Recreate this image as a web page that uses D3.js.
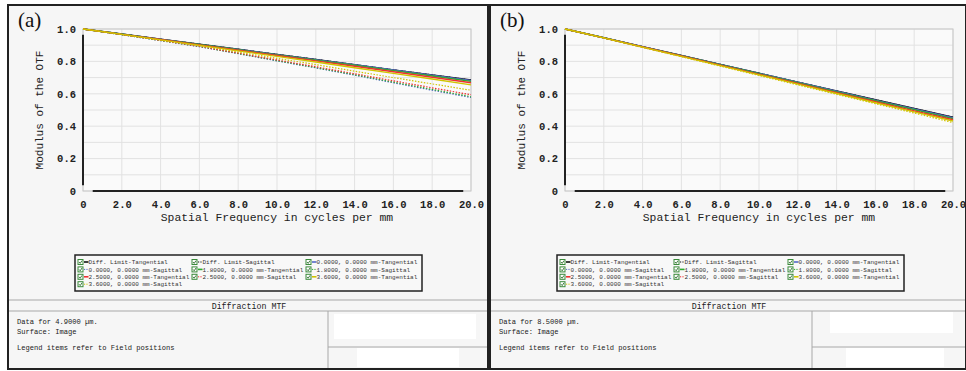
<!DOCTYPE html>
<html lang="en">
<head>
<meta charset="UTF-8" />
<title>Diffraction MTF</title>
<script src="https://d3js.org/d3.v7.min.js"></script>
<style>
  html, body { margin: 0; padding: 0; background: #fff; }
  svg { display: block; }
  .mono { font-family: "Liberation Mono", "DejaVu Sans Mono", monospace; }
</style>
</head>
<body>
<svg width="966" height="371"></svg>
<script>
// spatial frequency samples (cycles per mm)
const freq = [0, 2, 4, 6, 8, 10, 12, 14, 16, 18, 20];
const xTicks = [0, 2, 4, 6, 8, 10, 12, 14, 16, 18, 20];
const yTicks = [0, 0.2, 0.4, 0.6, 0.8, 1.0];

const seriesNames = [
  "Diff. Limit-Tangential", "Diff. Limit-Sagittal", "0.0000, 0.0000 mm-Tangential",
  "0.0000, 0.0000 mm-Sagittal", "1.8000, 0.0000 mm-Tangential", "1.8000, 0.0000 mm-Sagittal",
  "2.5000, 0.0000 mm-Tangential", "2.5000, 0.0000 mm-Sagittal", "3.6000, 0.0000 mm-Tangential",
  "3.6000, 0.0000 mm-Sagittal"
];
const seriesColors = ["#111", "#111", "#5468c8", "#5468c8", "#2eaa2e", "#2eaa2e",
                      "#f03030", "#f03030", "#d0c400", "#d0c400"];
const seriesDotted = [false, true, false, true, false, true, false, true, false, true];

// panel (a): 4.9 um
const aDiffTan = [1.000, 0.969, 0.937, 0.906, 0.875, 0.843, 0.812, 0.780, 0.748, 0.716, 0.685];
const aDiffSag = [1.000, 0.969, 0.937, 0.906, 0.875, 0.843, 0.812, 0.780, 0.748, 0.716, 0.685];
const aF0Tan   = [1.000, 0.968, 0.937, 0.905, 0.874, 0.842, 0.811, 0.779, 0.747, 0.715, 0.683];
const aF0Sag   = [1.000, 0.965, 0.928, 0.891, 0.848, 0.803, 0.760, 0.715, 0.668, 0.622, 0.577];
const aF1Tan   = [1.000, 0.968, 0.936, 0.904, 0.872, 0.840, 0.808, 0.776, 0.743, 0.710, 0.677];
const aF1Sag   = [1.000, 0.965, 0.929, 0.892, 0.849, 0.805, 0.762, 0.718, 0.672, 0.627, 0.582];
const aF2Tan   = [1.000, 0.967, 0.935, 0.902, 0.869, 0.836, 0.803, 0.770, 0.736, 0.702, 0.668];
const aF2Sag   = [1.000, 0.966, 0.930, 0.893, 0.851, 0.809, 0.767, 0.724, 0.680, 0.637, 0.594];
const aF3Tan   = [1.000, 0.967, 0.933, 0.899, 0.865, 0.831, 0.796, 0.761, 0.726, 0.691, 0.655];
const aF3Sag   = [1.000, 0.967, 0.932, 0.897, 0.858, 0.819, 0.780, 0.740, 0.700, 0.661, 0.622];

// panel (b): 8.5 um
const bDiffTan = [1.000, 0.946, 0.891, 0.837, 0.782, 0.727, 0.672, 0.617, 0.563, 0.509, 0.455];
const bDiffSag = [1.000, 0.946, 0.891, 0.837, 0.782, 0.727, 0.672, 0.617, 0.563, 0.509, 0.455];
const bF0Tan   = [1.000, 0.946, 0.891, 0.836, 0.781, 0.726, 0.671, 0.616, 0.561, 0.507, 0.452];
const bF0Sag   = [1.000, 0.946, 0.890, 0.836, 0.780, 0.724, 0.669, 0.613, 0.558, 0.503, 0.448];
const bF1Tan   = [1.000, 0.946, 0.890, 0.835, 0.780, 0.724, 0.668, 0.612, 0.557, 0.502, 0.447];
const bF1Sag   = [1.000, 0.945, 0.889, 0.834, 0.778, 0.721, 0.665, 0.609, 0.553, 0.497, 0.442];
const bF2Tan   = [1.000, 0.945, 0.889, 0.833, 0.777, 0.720, 0.664, 0.607, 0.551, 0.495, 0.440];
const bF2Sag   = [1.000, 0.945, 0.888, 0.832, 0.775, 0.718, 0.661, 0.603, 0.546, 0.490, 0.434];
const bF3Tan   = [1.000, 0.945, 0.888, 0.831, 0.774, 0.717, 0.660, 0.602, 0.545, 0.488, 0.432];
const bF3Sag   = [1.000, 0.944, 0.886, 0.829, 0.771, 0.713, 0.655, 0.597, 0.539, 0.481, 0.422];

const panels = [
  { tag: "(a)", left: 8, right: 488, wl: "Data for 4.9000 \u00b5m.",
    series: [aDiffTan, aDiffSag, aF0Tan, aF0Sag, aF1Tan, aF1Sag, aF2Tan, aF2Sag, aF3Tan, aF3Sag],
    divider: 320, boxes: [[326, 309, 142, 25], [349, 343, 102, 19]] },
  { tag: "(b)", left: 490, right: 966, wl: "Data for 8.5000 \u00b5m.",
    series: [bDiffTan, bDiffSag, bF0Tan, bF0Sag, bF1Tan, bF1Sag, bF2Tan, bF2Sag, bF3Tan, bF3Sag],
    divider: 322, boxes: [[340, 307, 123, 21], [356, 343, 98, 19]] }
];

const svg = d3.select("svg");

panels.forEach(p => {
  const g = svg.append("g");
  const w = p.right - p.left;

  g.append("rect").attr("x", p.left).attr("y", 5).attr("width", w).attr("height", 364)
    .attr("fill", "#f6f6f6").attr("stroke", "#222").attr("stroke-width", 2);

  g.append("text").attr("x", p.left + 10).attr("y", 27)
    .attr("font-family", "Liberation Serif, DejaVu Serif, serif").attr("font-size", 21)
    .attr("fill", "#111").text(p.tag);

  const x = d3.scaleLinear().domain([0, 20]).range([p.left + 75, p.left + 463]);
  const y = d3.scaleLinear().domain([0, 1]).range([191, 29]);

  // plot background and grid
  g.append("rect").attr("x", x(0)).attr("y", y(1)).attr("width", x(20) - x(0)).attr("height", y(0) - y(1))
    .attr("fill", "#fafafa");
  g.append("g").selectAll("line").data(d3.range(0, 1.01, 0.1)).join("line")
    .attr("x1", x(0)).attr("x2", x(20)).attr("y1", d => y(d)).attr("y2", d => y(d))
    .attr("stroke", "#e2e2e2").attr("stroke-width", 1);
  g.append("g").selectAll("line").data(xTicks).join("line")
    .attr("x1", d => x(d)).attr("x2", d => x(d)).attr("y1", y(0)).attr("y2", y(1))
    .attr("stroke", "#e2e2e2").attr("stroke-width", 1);
  g.append("rect").attr("x", x(0)).attr("y", y(1)).attr("width", x(20) - x(0)).attr("height", y(0) - y(1))
    .attr("fill", "none").attr("stroke", "#c8c8c8");

  // dark axis strokes as in the original plot
  g.append("line").attr("x1", x(0.5)).attr("x2", x(19.6)).attr("y1", y(0)).attr("y2", y(0))
    .attr("stroke", "#222").attr("stroke-width", 2);
  g.append("line").attr("x1", x(0)).attr("x2", x(0)).attr("y1", y(0.965)).attr("y2", y(0.035))
    .attr("stroke", "#222").attr("stroke-width", 2);

  // axes (labels only)
  const xAxis = d3.axisBottom(x).tickValues(xTicks).tickSize(0)
    .tickFormat(d => d === 0 ? "0" : d3.format(".1f")(d));
  const gx = g.append("g").attr("transform", `translate(0,${y(0) + 5})`).call(xAxis);
  const yAxis = d3.axisLeft(y).tickValues(yTicks).tickSize(0)
    .tickFormat(d => d === 0 ? "0" : d3.format(".1f")(d));
  const gy = g.append("g").attr("transform", `translate(${x(0) - 4},0)`).call(yAxis);
  [gx, gy].forEach(a => {
    a.select(".domain").remove();
    a.selectAll("text").attr("class", "mono").attr("font-size", 10.5).attr("fill", "#222")
      .attr("font-weight", "bold").attr("font-family", "Liberation Mono, DejaVu Sans Mono, monospace");
  });
  gx.selectAll("text").attr("dy", "0.9em");

  g.append("text").attr("class", "mono").attr("x", (x(0) + x(20)) / 2).attr("y", 221)
    .attr("text-anchor", "middle").attr("font-size", 11.4).attr("fill", "#222")
    .text("Spatial Frequency in cycles per mm");
  g.append("text").attr("class", "mono")
    .attr("transform", `translate(${p.left + 35},${(y(0) + y(1)) / 2}) rotate(-90)`)
    .attr("text-anchor", "middle").attr("font-size", 11).attr("fill", "#222")
    .text("Modulus of the OTF");

  // curves
  const line = d3.line().x((d, i) => x(freq[i])).y(d => y(d));
  p.series.forEach((s, i) => {
    g.append("path").datum(s).attr("d", line).attr("fill", "none")
      .attr("stroke", seriesColors[i]).attr("stroke-width", seriesDotted[i] ? 1.2 : 1.4)
      .attr("stroke-dasharray", seriesDotted[i] ? "1.5,1.5" : null);
  });

  // legend
  const lx = p.left + 67, ly = 255;
  g.append("rect").attr("x", lx).attr("y", ly).attr("width", 347).attr("height", 36)
    .attr("fill", "#f8f8f8").attr("stroke", "#222").attr("stroke-width", 1.5);
  seriesNames.forEach((name, i) => {
    const cx = lx + 3 + (i % 3) * 114, cy = ly + 7 + Math.floor(i / 3) * 7.4;
    const it = g.append("g");
    it.append("rect").attr("x", cx).attr("y", cy - 2.5).attr("width", 5).attr("height", 5)
      .attr("fill", "#fff").attr("stroke", "#3a8a3a").attr("stroke-width", 1);
    it.append("path").attr("d", `M${cx + 1},${cy} L${cx + 2.2},${cy + 1.4} L${cx + 4},${cy - 1.4}`)
      .attr("fill", "none").attr("stroke", "#2a6a2a").attr("stroke-width", 0.9);
    it.append("line").attr("x1", cx + 6).attr("x2", cx + 10.5).attr("y1", cy).attr("y2", cy)
      .attr("stroke", seriesColors[i]).attr("stroke-width", seriesDotted[i] ? 1 : 1.6)
      .attr("stroke-dasharray", seriesDotted[i] ? "1.2,1.2" : null);
    it.append("text").attr("class", "mono").attr("x", cx + 10.5).attr("y", cy + 2.1)
      .attr("font-size", 6).attr("fill", "#333").text(name);
  });

  // title block
  const bl = "#a8a8a8";
  g.append("line").attr("x1", p.left).attr("x2", p.right).attr("y1", 300).attr("y2", 300).attr("stroke", bl);
  g.append("line").attr("x1", p.left).attr("x2", p.right).attr("y1", 311).attr("y2", 311).attr("stroke", bl);
  g.append("text").attr("class", "mono").attr("x", p.left + w / 2 + 1).attr("y", 308.5)
    .attr("text-anchor", "middle").attr("font-size", 8.3).attr("fill", "#222").text("Diffraction MTF");
  g.append("line").attr("x1", p.left + p.divider).attr("x2", p.left + p.divider)
    .attr("y1", 311).attr("y2", 368).attr("stroke", bl);
  g.append("line").attr("x1", p.left + p.divider).attr("x2", p.right).attr("y1", 347).attr("y2", 347)
    .attr("stroke", bl);
  p.boxes.forEach(b => {
    g.append("rect").attr("x", p.left + b[0]).attr("y", b[1] + 5).attr("width", b[2]).attr("height", b[3])
      .attr("fill", "#fff");
  });
  const info = [[p.wl, 324], ["Surface: Image", 334], ["Legend items refer to Field positions", 350]];
  info.forEach(t => {
    g.append("text").attr("class", "mono").attr("x", p.left + 9).attr("y", t[1])
      .attr("font-size", 7.1).attr("fill", "#222").text(t[0]);
  });

  // re-draw outer border on top
  g.append("rect").attr("x", p.left).attr("y", 5).attr("width", w).attr("height", 364)
    .attr("fill", "none").attr("stroke", "#222").attr("stroke-width", 2);
});
</script>
</body>
</html>
